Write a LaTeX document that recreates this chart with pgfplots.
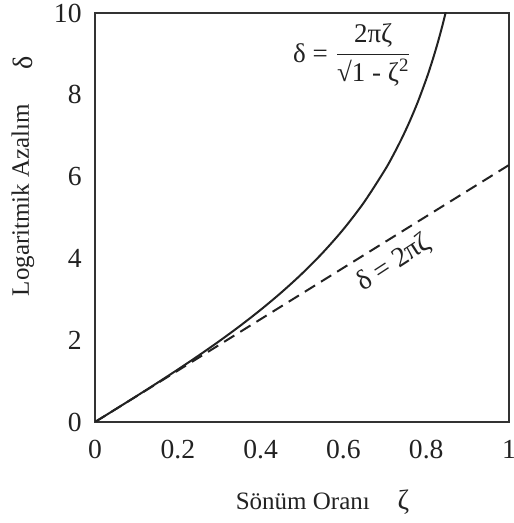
\documentclass[border=0pt]{standalone}
\usepackage{fontspec}
\setmainfont{Liberation Serif}
\usepackage{graphicx}
\usepackage{pgfplots}
\pgfplotsset{compat=1.18}
\definecolor{ink}{HTML}{222222}
\definecolor{frame}{HTML}{333333}
\begin{document}
\begin{tikzpicture}
\begin{axis}[
  scale only axis,
  width=207pt, height=204.5pt,
  xmin=0, xmax=1, ymin=0, ymax=10,
  xtick={0,0.2,0.4,0.6,0.8,1},
  xticklabels={0,0.2,0.4,0.6,0.8,1},
  ytick={0,2,4,6,8,10},
  major tick length=0pt,
  tick style={draw=none},
  axis line style={frame, line width=0.8pt},
  /pgf/number format/assume math mode=true,
  tick label style={font=\fontsize{13.8}{15}\selectfont, text=ink},
  xticklabel style={anchor=north, inner sep=0pt, yshift=-9pt},
  yticklabel style={anchor=east, inner sep=0pt, xshift=-6.5pt},
  clip mode=individual,
]
\addplot[ink, line width=1pt, smooth] coordinates {
(0,0) (0.05,0.31455) (0.1,0.63148) (0.15,0.95325) (0.2,1.28254)
(0.25,1.62231) (0.3,1.97597) (0.35,2.34760) (0.4,2.74219) (0.45,3.16611)
(0.5,3.62760) (0.55,4.13783) (0.6,4.71239) (0.65,5.37426) (0.7,6.15876)
(0.72,6.51885) (0.74,6.91271) (0.76,7.34739) (0.78,7.83163) (0.8,8.37758)
(0.81,8.67858) (0.82,9.00162) (0.83,9.35000) (0.84,9.72720) (0.85,10.13847)
};
\addplot[ink, line width=1pt, dash pattern=on 6pt off 3.5pt] coordinates {
(0,0) (1,6.28319)
};
\node[text=ink, font=\fontsize{13.5}{15}\selectfont] at (axis cs:0.622,8.97)
  {δ = $\displaystyle\frac{\mbox{2πζ}}{\mbox{√1 - ζ\textsuperscript{2}}}$};
\node[text=ink, font=\fontsize{14}{16}\selectfont, rotate=33, inner sep=0pt] at (axis cs:0.722,3.88) {δ = 2πζ};
\node[text=ink, rotate=90, font=\fontsize{12.5}{14}\selectfont] at (rel axis cs:-0.174,0.543)
  {Logaritmik Azalım};
\node[text=ink, rotate=90, font=\fontsize{14}{16}\selectfont] at (rel axis cs:-0.174,0.878) {δ};
\node[text=ink, font=\fontsize{12.5}{14}\selectfont] at (rel axis cs:0.502,-0.193)
  {Sönüm Oranı};
\node[text=ink, font=\fontsize{14}{16}\selectfont] at (rel axis cs:0.745,-0.197) {ζ};
\end{axis}
\pgfresetboundingbox
\path[use as bounding box] ([shift={(-47.5pt,-50.5pt)}]current axis.south west) rectangle ([shift={(2pt,6.5pt)}]current axis.north east);
\end{tikzpicture}
\end{document}
